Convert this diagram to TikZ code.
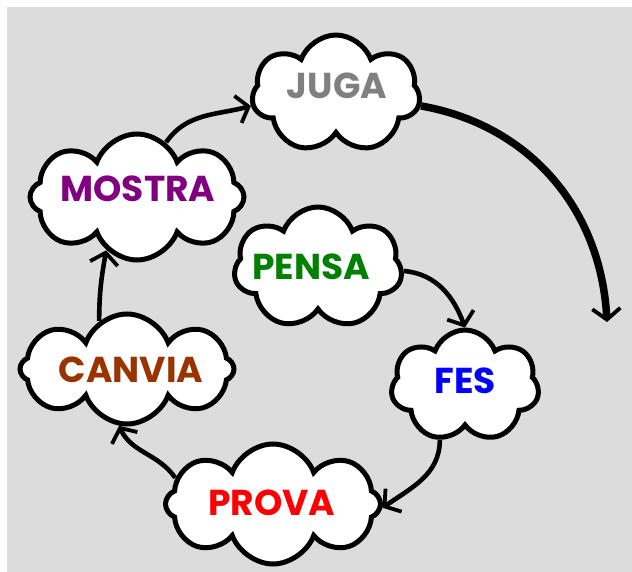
\documentclass[tikz,border=0pt]{standalone}
\usepackage{fontspec}
\setmainfont{Poppins}
\usetikzlibrary{shapes.symbols,arrows.meta}
\definecolor{bggray}{RGB}{220,220,220}
\definecolor{jugac}{RGB}{128,128,128}
\definecolor{mostrac}{RGB}{128,0,128}
\definecolor{pensac}{RGB}{0,128,0}
\definecolor{fesc}{RGB}{0,0,255}
\definecolor{canviac}{RGB}{153,51,0}
\definecolor{provac}{RGB}{255,0,0}
\tikzset{
  cloudbox/.style={cloud, cloud ignores aspect, cloud puffs=7, cloud puff arc=140, draw=black, fill=white, line width=5pt, inner sep=0pt},
  word/.style={font=\bfseries\fontsize{36}{40}\selectfont, inner sep=0pt},
  link/.style={line width=4.6pt, -{Straight Barb[length=11pt,width=28pt,line width=3.8pt]}},
}
\begin{document}
\begin{tikzpicture}[x=1pt,y=-1pt]
\useasboundingbox (0,0) rectangle (632,572);
\fill[white] (0,0) rectangle (632,572);
\fill[bggray] (7,7) rectangle (632,572);

\node[cloudbox, minimum width=168pt, minimum height=118pt] (juga) at (336,94) {};
\node[cloudbox, cloud puffs=8, minimum width=214pt, minimum height=126pt] (mostra) at (137,197) {};
\node[cloudbox, minimum width=168pt, minimum height=122pt] (pensa) at (318,268) {};
\node[cloudbox, minimum width=148pt, minimum height=112pt] (fes) at (465,386) {};
\node[cloudbox, cloud puffs=8, minimum width=214pt, minimum height=110pt] (canvia) at (127,369) {};
\node[cloudbox, cloud puffs=8, minimum width=215pt, minimum height=120pt] (prova) at (273,504) {};

\node[word, text=jugac] (tjuga) at (337,86) {JUGA};
\node[word, text=mostrac] (tmostra) at (138,189) {MOSTRA};
\node[word, text=pensac] (tpensa) at (311,267) {PENSA};
\node[word, text=fesc] (tfes) at (465,381) {FES};
\node[word, text=canviac] (tcanvia) at (131,370) {CANVIA};
\node[word, text=provac] (tprova) at (272,503) {PROVA};

\coordinate (jugaend) at (607,322);

\draw[link] (mostra.62) to[out=55,in=195] (juga.188);
\draw[link, line width=7.5pt] (juga.-8) to[out=-10,in=93] (jugaend);
\draw[link] (pensa.-2) to[out=-5,in=110] (fes.90);
\draw[link] (fes.245) to[out=-90,in=35] (prova.-2);
\draw[link] (prova.165) to[out=125,in=-65] (canvia.262);
\draw[link] (canvia.120) to[out=90,in=-100] (mostra.240);
\end{tikzpicture}
\end{document}
